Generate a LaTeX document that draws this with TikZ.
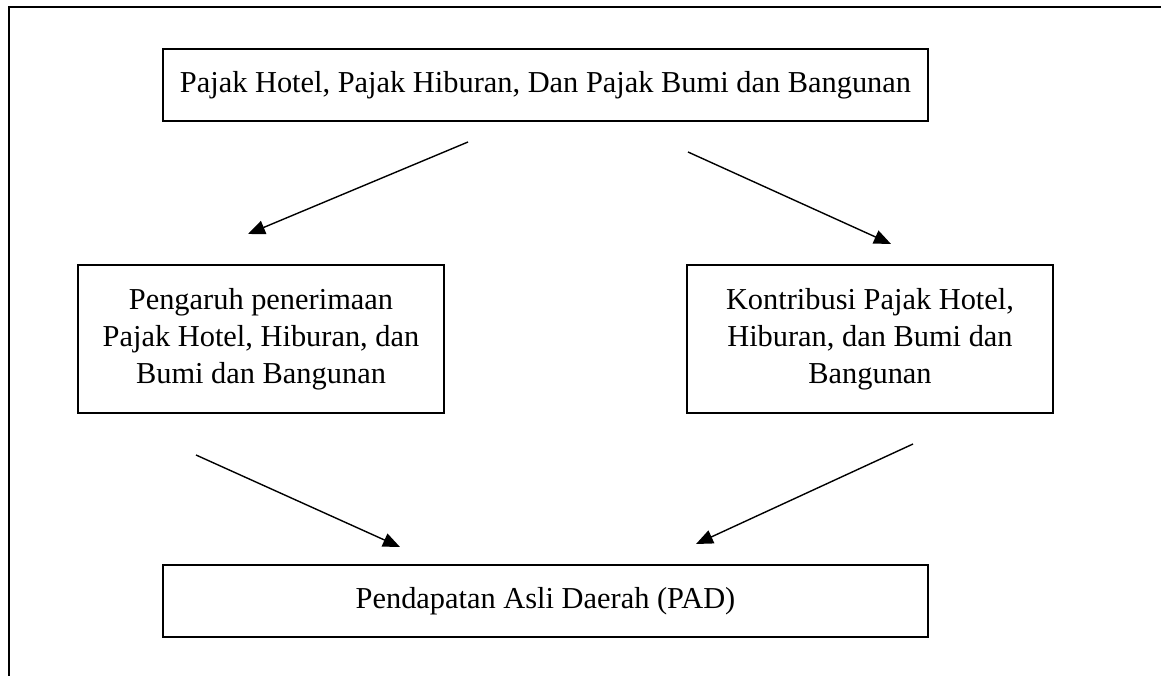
\documentclass[tikz,border=0pt]{standalone}
\usepackage{fontspec}
\setmainfont{Liberation Serif}
\usetikzlibrary{arrows.meta}
\begin{document}
\begin{tikzpicture}[x=1pt,y=-1pt,
  box/.style={draw,line width=2.5pt,align=center,inner sep=0pt,
    font=\fontsize{30.4}{37}\selectfont},
  conn/.style={line width=1.4pt,-{Triangle[length=17pt,width=14pt]}},
  frame/.style={line width=2pt}]
\useasboundingbox (0,0) rectangle (1161,676);
\draw[frame] (9,676) -- (9,7) -- (1161,7);
\node[box,minimum width=765,minimum height=72] (top) at (545.5,85)
  {Pajak Hotel, Pajak Hiburan, Dan Pajak Bumi dan Bangunan};
\node[box,minimum width=366,minimum height=148] (left) at (261,339)
  {Pengaruh penerimaan\\Pajak Hotel, Hiburan, dan\\Bumi dan Bangunan};
\node[box,minimum width=366,minimum height=148] (right) at (870,339)
  {Kontribusi Pajak Hotel,\\Hiburan, dan Bumi dan\\Bangunan};
\node[box,minimum width=765,minimum height=72] (bot) at (545.5,601)
  {Pendapatan Asli Daerah (PAD)};
\coordinate (a1s) at (468,142);
\coordinate (a1e) at (248,234);
\coordinate (a2s) at (688,152);
\coordinate (a2e) at (891,244);
\coordinate (a3s) at (196,455);
\coordinate (a3e) at (400,547);
\coordinate (a4s) at (913,444);
\coordinate (a4e) at (696,544);
\draw[conn] (a1s) -- (a1e);
\draw[conn] (a2s) -- (a2e);
\draw[conn] (a3s) -- (a3e);
\draw[conn] (a4s) -- (a4e);
\end{tikzpicture}
\end{document}
